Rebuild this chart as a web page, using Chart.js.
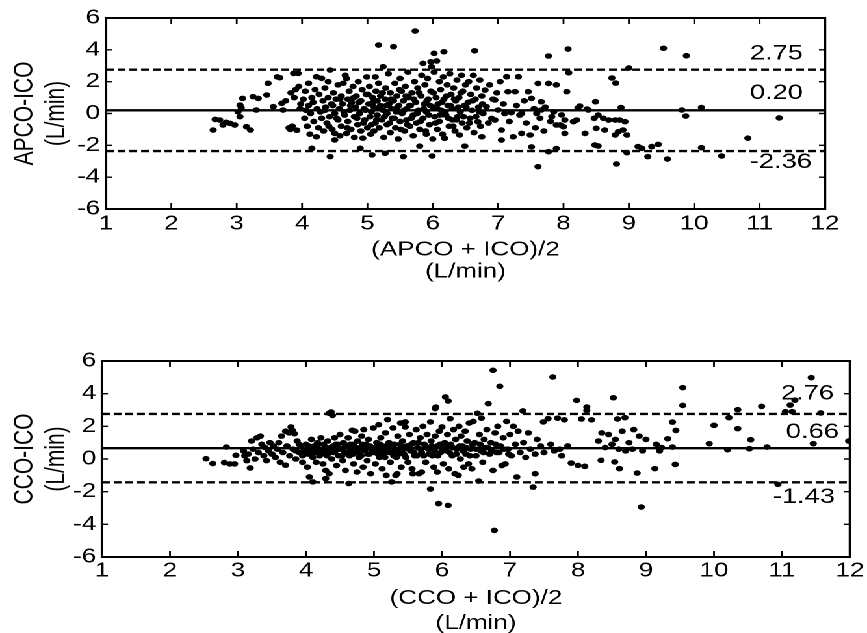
<!DOCTYPE html>
<html>
<head>
<meta charset="utf-8">
<script src="https://cdn.jsdelivr.net/npm/chart.js@4.4.1/dist/chart.umd.min.js"></script>
<style>
  html, body { margin: 0; padding: 0; background: #fff; overflow: hidden; }
  #wrap { position: absolute; left: 0; top: 0; width: 667px; height: 633px; transform-origin: 0 0; }
  #wrap canvas { position: absolute; left: 0; }
</style>
</head>
<body>
<div id="wrap">
  <canvas id="chart-apco" width="667" height="300" style="top:0"></canvas>
  <canvas id="chart-cco" width="667" height="310" style="top:330px"></canvas>
</div>
<script>
// the scanned figure is stretched sideways, so the page is drawn narrow and widened
const S = 1.3;
document.getElementById('wrap').style.transform = `scaleX(${S})`;

const xTicks = [1, 2, 3, 4, 5, 6, 7, 8, 9, 10, 11, 12];
const yTicks = [-6, -4, -2, 0, 2, 4, 6];

// limits of agreement: upper, mean bias, lower
const apcoLines = [2.75, 0.20, -2.36];
const ccoLines = [2.76, 0.66, -1.43];

// (APCO + ICO)/2 vs APCO-ICO
const apcoPoints = [
    [2.64, -1.04], [2.67, -0.37], [2.74, -0.41], [2.79, -0.72], [2.84, -0.55], [2.9, -0.62], [2.97, -0.72],
    [3.02, 0.11], [3.05, 0.53], [3.05, -0.2], [3.09, 0.95], [3.07, 0.35], [3.15, -0.83], [3.21, -1.04],
    [3.25, 1.06], [3.33, 0.95], [3.3, 0.22], [3.46, 1.16], [3.48, 1.9], [3.56, 0.43], [3.62, 2.3], [3.66, 2.25],
    [3.69, 0.64], [3.71, 0.22], [3.75, 0.8], [3.8, -0.9], [3.83, 1.3], [3.82, -1.0], [3.85, -0.8], [3.87, 2.52],
    [3.88, 1.0], [3.9, 1.5], [3.92, -1.05], [3.94, 2.52], [3.95, 1.7], [3.97, 0.3], [3.98, 0.6],
    [4.02, 0.9], [4.04, -0.3], [4.05, 1.4], [4.06, 0.2], [4.08, -0.8], [4.1, 0.5], [4.1, 1.9], [4.12, -1.3],
    [4.13, 0.0], [4.15, -2.19], [4.15, 1.0], [4.17, 0.7], [4.18, -0.5], [4.2, 1.5], [4.22, 2.31], [4.22, -1.46],
    [4.23, 0.3], [4.25, -0.9], [4.26, 1.2], [4.28, 0.1], [4.3, 2.21], [4.3, -0.3], [4.32, 0.8], [4.33, -1.1],
    [4.35, 1.6], [4.36, 0.4], [4.38, -0.6], [4.4, 2.0], [4.4, 1.0], [4.42, -0.2], [4.43, 2.73], [4.43, -2.71],
    [4.45, 0.6], [4.46, -1.0], [4.48, 1.3], [4.5, -1.66], [4.5, -1.25], [4.5, 0.0], [4.52, 0.9],
    [4.55, 1.8], [4.55, -0.4], [4.57, 0.3], [4.58, -1.4], [4.6, 1.1], [4.6, -0.8], [4.62, 0.6], [4.63, 1.9],
    [4.65, -0.1], [4.66, 2.4], [4.68, 2.2], [4.68, -1.25], [4.7, 0.9], [4.7, -0.5], [4.72, 1.4], [4.73, 0.2],
    [4.75, -1.0], [4.76, 0.7], [4.78, 1.7], [4.8, -1.5], [4.8, -0.2], [4.82, 0.4], [4.83, 1.1], [4.85, -0.7],
    [4.86, 2.0], [4.88, 0.0], [4.89, -2.19], [4.9, 0.8], [4.9, -1.1], [4.92, 1.5], [4.93, -1.55], [4.95, 0.3],
    [4.96, -0.4], [4.98, 1.2], [4.99, 2.3], [5.0, -0.9],
    [5.02, 0.6], [5.03, 1.7], [5.04, -0.2], [5.05, -1.3], [5.06, 0.1], [5.07, -2.6], [5.08, 1.0], [5.1, -1.1],
    [5.1, 0.4], [5.12, 2.3], [5.12, -0.6], [5.13, 1.4], [5.15, 0.8], [5.15, -0.1], [5.17, 4.3], [5.17, 1.9],
    [5.18, -0.9], [5.2, 0.5], [5.2, 1.1], [5.22, -0.4], [5.24, 2.94], [5.24, 0.2], [5.25, -1.5], [5.27, -2.5],
    [5.27, 0.9], [5.28, 1.6], [5.3, -0.7], [5.3, 0.0], [5.32, 2.5], [5.33, 0.6], [5.35, -1.2], [5.35, 1.3],
    [5.37, 0.3], [5.38, -0.3], [5.4, 4.2], [5.4, 0.8], [5.42, 1.9], [5.43, -0.9], [5.44, 0.1], [5.45, 1.1],
    [5.47, -1.6], [5.48, 0.5], [5.5, -0.5], [5.5, 2.2],
    [5.52, 1.4], [5.53, 0.0], [5.55, -2.71], [5.55, 0.8], [5.57, -1.1], [5.58, 1.7], [5.6, 0.3], [5.6, -0.4],
    [5.62, 2.6], [5.63, 1.0], [5.65, -0.8], [5.66, 0.5], [5.68, 1.3], [5.7, -1.4], [5.7, -0.1], [5.72, 2.0],
    [5.73, 5.18], [5.74, 0.7], [5.75, -0.6], [5.77, 1.6], [5.78, 0.2], [5.8, -2.05], [5.8, -1.0], [5.82, 1.1],
    [5.83, 2.4], [5.85, 3.15], [5.85, -0.3], [5.87, 0.6], [5.88, 1.8], [5.9, -1.3], [5.9, 0.1], [5.92, 2.2],
    [5.93, 0.9], [5.95, -0.7], [5.97, 3.25], [5.97, 1.4], [5.98, 2.94], [5.99, -2.67], [6.0, 0.4], [6.0, -1.6],
    [6.02, 3.78], [6.02, 2.6], [6.03, -0.2], [6.05, 1.0], [6.06, 3.3], [6.07, -1.0], [6.08, 0.6], [6.1, 2.0],
    [6.1, -0.5], [6.12, 1.5], [6.13, 0.2], [6.15, -1.3], [6.16, 2.3], [6.17, 3.88], [6.17, 0.9], [6.18, -1.56],
    [6.2, -0.1], [6.22, 1.8], [6.23, 0.5], [6.25, -0.8], [6.26, 2.5], [6.28, 1.2], [6.3, -0.4], [6.3, 0.3],
    [6.32, 1.6], [6.34, -1.1], [6.35, 0.8], [6.37, 2.1], [6.38, -0.2], [6.4, 1.0], [6.41, -1.35], [6.42, 0.1],
    [6.44, 2.4], [6.45, -0.6], [6.46, 1.4], [6.48, 0.5], [6.49, -2.05], [6.5, 1.8],
    [6.52, -0.9], [6.54, 0.7], [6.55, 2.0], [6.57, -0.3], [6.58, 1.2], [6.6, 0.2], [6.62, 2.4], [6.63, -1.2],
    [6.64, 3.94], [6.65, 0.9], [6.67, 1.6], [6.69, -0.52], [6.7, 0.4], [6.72, 2.1], [6.73, -0.8], [6.75, -1.46],
    [6.75, 1.1], [6.77, 0.0], [6.8, 1.47], [6.82, 0.43], [6.85, -0.6], [6.87, 1.8], [6.9, -0.31], [6.92, 0.9],
    [6.95, 0.85], [6.95, -0.41], [6.98, 1.3], [7.0, 0.22],
    [7.03, 2.0], [7.05, -1.04], [7.05, -1.67], [7.08, 0.6], [7.1, 0.0], [7.13, 2.31], [7.15, 1.37], [7.17, -0.5],
    [7.2, 0.05], [7.23, -1.46], [7.26, 1.37], [7.28, 0.5], [7.31, 2.31], [7.33, -0.1], [7.36, -1.25], [7.36, 0.0],
    [7.4, 0.8], [7.43, -0.6], [7.46, 1.37], [7.49, -1.35], [7.51, 0.95], [7.51, -2.1], [7.55, 0.3], [7.57, -0.9],
    [7.59, 0.0], [7.61, 1.89], [7.61, -3.34], [7.64, -0.3], [7.66, 0.74], [7.66, 0.22], [7.7, -1.1], [7.72, 0.4],
    [7.77, 3.61], [7.77, 1.89], [7.77, -2.4], [7.8, -0.5], [7.82, -0.2], [7.85, 0.1], [7.89, -0.72], [7.89, -2.2],
    [7.89, 1.8],
    [7.95, -0.72], [7.97, -0.09], [8.0, -0.83], [8.02, -0.41], [8.02, -1.25], [8.05, 1.37], [8.07, 4.05], [8.08, 2.56],
    [8.15, -0.51], [8.2, -0.41], [8.22, 0.35], [8.25, 0.47], [8.33, -1.25], [8.36, 0.28], [8.38, 0.22], [8.47, -0.3],
    [8.48, -1.98], [8.49, 0.74], [8.5, -0.93], [8.53, -0.1], [8.53, -2.04], [8.61, -0.3], [8.63, -1.04], [8.69, -0.41],
    [8.74, 2.23], [8.79, -0.41], [8.79, -1.35], [8.8, 1.91], [8.81, -3.17], [8.84, -1.14], [8.86, -0.41], [8.88, 0.37],
    [8.91, -1.04], [8.94, -0.51], [8.97, -1.35], [8.97, -2.46], [9.0, 2.86], [9.14, -2.08], [9.2, -2.19], [9.29, -2.71],
    [9.35, -2.08], [9.45, -1.94], [9.53, 4.1], [9.59, -2.86], [9.81, 0.22], [9.87, -0.16], [9.88, 3.63], [10.11, 0.37],
    [10.11, -2.15], [10.42, -2.67], [10.82, -1.55], [11.3, -0.28],
    // core of the cloud
    [4.35, 0.2], [4.41, -0.8], [4.47, 0.5], [4.53, -0.3], [4.58, 0.9], [4.64, 0.1], [4.69, -0.9], [4.74, 0.5],
    [4.79, 1.0], [4.84, -0.3], [4.87, 0.7], [4.94, -0.6], [4.97, 0.2], [5.01, 1.2], [5.06, -0.7], [5.09, 0.7],
    [5.14, -0.4], [5.19, 0.3], [5.23, 1.3], [5.26, -0.2], [5.29, 0.5], [5.34, -0.6], [5.36, 0.9], [5.41, -0.3],
    [5.46, 0.4], [5.49, 1.5], [5.51, -1.0], [5.56, 0.2], [5.59, 1.1], [5.61, -0.7], [5.64, 0.5], [5.67, -0.3],
    [5.71, 0.9], [5.76, 0.0], [5.79, 1.3], [5.81, -0.5], [5.86, 0.3], [5.89, -1.1], [5.91, 0.8], [5.94, -0.1],
    [5.96, 0.5], [6.01, 1.3], [6.04, -0.6], [6.07, 0.3], [6.11, -0.1], [6.14, 0.7], [6.19, 0.1], [6.21, 1.1],
    [6.24, -0.3], [6.27, 0.5], [6.31, -0.8], [6.33, 0.9], [6.36, -0.4], [6.39, 0.4], [6.43, 1.3], [6.47, -0.2],
    [6.51, 0.4], [6.56, -0.6], [6.61, 0.8], [6.66, -0.2], [6.71, 0.1], [6.76, 0.6]
];

// (CCO + ICO)/2 vs CCO-ICO
const ccoPoints = [
    [2.53, 0.02], [2.63, -0.28], [2.83, 0.73], [2.8, -0.22], [2.88, -0.3], [2.95, -0.3], [2.97, 0.23], [3.08, 0.5],
    [3.1, 0.2], [3.13, -0.1], [3.15, 0.3], [3.18, -0.55], [3.2, 1.1], [3.22, 0.6], [3.25, 0.0], [3.28, 1.3],
    [3.3, 0.4], [3.33, 1.4], [3.35, 0.9], [3.38, 0.2], [3.4, 0.7], [3.42, -0.1], [3.45, 0.5], [3.47, 1.0],
    [3.5, 0.3], [3.52, 0.8], [3.55, 0.1], [3.58, 0.6], [3.6, 1.0], [3.62, -0.2], [3.64, 1.4], [3.66, 0.4],
    [3.7, -0.38], [3.7, 1.7], [3.72, 0.8], [3.75, 1.6], [3.76, 0.2], [3.78, 1.96], [3.8, 1.75], [3.81, 0.6],
    [3.83, 1.55], [3.85, 0.0], [3.87, 1.1], [3.9, 0.4], [3.92, 0.8], [3.95, -0.2], [3.97, 0.5],
    [4.0, 0.9], [4.02, -0.5], [4.03, 0.3], [4.05, -1.1], [4.06, 0.6], [4.08, 1.2], [4.1, 0.1], [4.1, -1.4],
    [4.12, 0.8], [4.14, 0.4], [4.15, -0.2], [4.17, 1.0], [4.18, 0.6], [4.2, 0.2], [4.22, 1.3], [4.23, 0.5],
    [4.25, -0.3], [4.26, 0.9], [4.28, 0.3], [4.29, -0.7], [4.29, -1.2], [4.3, 0.7], [4.32, 1.1], [4.34, -0.9],
    [4.34, 2.8], [4.35, 0.4], [4.37, 2.88], [4.38, 0.0], [4.39, 2.67], [4.4, 0.8], [4.42, 1.3], [4.43, 0.5],
    [4.45, -0.4], [4.47, 0.9], [4.48, 0.2], [4.5, 1.5], [4.52, 0.6], [4.54, -0.1], [4.55, 1.0], [4.57, 0.4],
    [4.58, -0.7], [4.6, 0.8], [4.62, 1.3], [4.63, -1.5], [4.64, 0.2], [4.66, 0.6], [4.68, 1.76], [4.7, -0.3],
    [4.7, 0.9], [4.72, 1.7], [4.73, 0.4], [4.75, -0.8], [4.76, 1.1], [4.78, 0.1], [4.8, 0.7], [4.82, 1.4],
    [4.84, -0.5], [4.85, 1.8], [4.86, 0.5], [4.88, 0.9], [4.9, -0.1], [4.92, 1.2], [4.93, 0.3], [4.95, -0.9],
    [4.97, 0.7], [4.99, 1.9],
    [5.0, 0.4], [5.02, -0.3], [5.04, 1.0], [5.05, 0.6], [5.07, 2.1], [5.08, 0.1], [5.1, 1.3], [5.12, -0.6],
    [5.13, 0.8], [5.15, 0.3], [5.17, 1.6], [5.18, -1.0], [5.2, 2.41], [5.2, 0.6], [5.22, 1.0], [5.24, -0.2],
    [5.26, -1.4], [5.27, 0.4], [5.28, 1.9], [5.3, 0.9], [5.32, -1.0], [5.33, 0.1], [5.34, -0.9], [5.35, 1.4],
    [5.37, 0.6], [5.39, 2.2], [5.4, -0.5], [5.42, 1.1], [5.44, 0.3], [5.46, 2.27], [5.46, 1.96], [5.48, 0.8],
    [5.5, -0.2], [5.52, 1.5], [5.54, 0.5], [5.56, -0.6], [5.57, -0.9], [5.58, 1.0], [5.6, 0.2], [5.62, 1.8],
    [5.64, 0.7], [5.66, -0.9], [5.68, 1.3], [5.7, -0.8], [5.7, 0.4], [5.72, 2.0], [5.74, 0.9], [5.76, -0.2],
    [5.78, 1.5], [5.8, 0.6], [5.83, -1.84], [5.83, 2.27], [5.84, 1.1], [5.86, 0.2], [5.88, -0.5], [5.9, 3.09],
    [5.9, 1.4], [5.91, 3.18], [5.93, -0.8], [5.93, 0.8], [5.95, -2.73], [5.96, 1.7], [5.98, 0.4], [6.0, 1.96],
    [6.02, -0.3], [6.04, 1.0], [6.05, 3.8], [6.06, 0.5], [6.08, 1.5], [6.09, 3.55], [6.09, -2.84], [6.1, -0.6],
    [6.12, 2.47], [6.13, 0.9], [6.15, 0.2], [6.17, 1.8], [6.19, -0.9], [6.2, 1.2], [6.22, 0.6], [6.24, -1.0],
    [6.25, 2.0], [6.27, 0.0], [6.28, 1.4], [6.3, 0.8], [6.32, -0.5], [6.34, 1.7], [6.35, 0.3], [6.37, 1.1],
    [6.39, -0.3], [6.4, 2.2], [6.42, 0.6], [6.44, -0.6], [6.46, 2.3], [6.48, 1.0], [6.5, 0.2], [6.52, 2.8],
    [6.54, -1.35], [6.55, 1.5], [6.57, 0.5], [6.58, 2.5], [6.6, -0.2], [6.62, 1.2], [6.64, 0.7], [6.66, 1.8],
    [6.68, 3.39], [6.7, 0.3], [6.72, 1.0], [6.75, 5.43], [6.75, -0.7], [6.77, -4.37], [6.78, 1.6], [6.8, 0.4],
    [6.82, 2.0], [6.85, 4.45], [6.86, 0.8], [6.88, -0.4], [6.9, 1.3], [6.93, -0.3], [6.95, 2.3], [6.97, 0.6],
    [7.0, 1.5],
    [7.02, 0.2], [7.05, 2.0], [7.08, 0.9], [7.1, -1.1], [7.12, 1.7], [7.15, 0.4], [7.19, 2.94], [7.2, 1.0],
    [7.23, 0.1], [7.27, 1.6], [7.3, 0.6], [7.34, -1.72], [7.37, -0.9], [7.37, 0.3], [7.4, 1.2], [7.45, 0.8],
    [7.49, 2.27], [7.5, 0.4], [7.56, 2.47], [7.6, 0.9], [7.63, 5.02], [7.65, 0.5], [7.7, 2.5], [7.73, 0.6],
    [7.76, 0.2], [7.8, 2.4], [7.85, 0.8], [7.9, -0.25], [7.98, 3.59], [8.0, -0.39], [8.05, 2.45], [8.1, -0.45],
    [8.13, 3.18], [8.13, 2.98],
    [8.2, 2.4], [8.3, 1.1], [8.34, -0.08], [8.35, 1.6], [8.4, 0.7], [8.45, 1.5], [8.5, 0.9], [8.52, 3.75],
    [8.54, -0.18], [8.55, 1.2], [8.58, 2.45], [8.6, 0.6], [8.61, -0.59], [8.65, 1.7], [8.69, 2.53], [8.7, 0.5],
    [8.75, 1.0], [8.8, 0.6], [8.82, 1.8], [8.87, -0.86], [8.9, 1.4], [8.93, -2.94], [8.95, 0.5], [9.0, 1.2],
    [9.13, -0.59], [9.15, 0.9], [9.2, 0.5], [9.23, 0.7], [9.32, 1.24], [9.39, 2.26], [9.39, 0.73], [9.43, -0.33],
    [9.44, 1.75], [9.54, 4.37], [9.54, 3.28], [9.93, 0.94], [10.0, 2.06], [10.2, 0.57], [10.22, 2.53], [10.35, 3.02],
    [10.35, 1.86], [10.52, 0.63], [10.54, 1.18], [10.7, 3.22], [10.78, 0.73], [10.94, -1.55], [11.05, 2.9], [11.12, 3.3],
    [11.19, 3.6], [11.15, 2.9], [11.43, 4.98], [11.46, 0.94], [11.57, 2.82], [11.98, 1.1],
    // core of the cloud
    [3.85, 0.5], [3.9, 0.9], [3.95, 0.2], [4.0, 0.5], [4.04, 0.8], [4.08, 0.3], [4.13, 0.6], [4.19, 0.9],
    [4.21, 0.4], [4.27, 0.6], [4.31, 0.2], [4.36, 0.7], [4.41, 0.4], [4.44, 0.9], [4.49, 0.6], [4.53, 0.2],
    [4.56, 0.7], [4.61, 0.4], [4.65, 0.9], [4.69, 0.3], [4.74, 0.7], [4.77, 0.4], [4.81, 0.2], [4.83, 0.9],
    [4.87, 0.6], [4.91, 0.3], [4.94, 0.8], [4.98, 0.5], [5.03, 0.7], [5.06, 0.3], [5.09, 0.9], [5.14, 0.5],
    [5.16, 0.1], [5.19, 0.8], [5.23, 0.4], [5.25, 0.9], [5.29, 0.2], [5.31, 0.6], [5.36, 0.3], [5.38, 0.9],
    [5.41, 0.5], [5.45, 0.7], [5.47, 0.1], [5.51, 0.6], [5.55, 0.9], [5.59, 0.4], [5.63, 0.2], [5.65, 1.0],
    [5.69, 0.6], [5.73, 0.2], [5.77, 0.7], [5.81, 0.3], [5.85, 0.8], [5.89, 0.5], [5.94, 0.2], [5.97, 0.9],
    [6.01, 0.6], [6.07, 0.8], [6.11, 0.4], [6.16, 0.7], [6.21, 0.3], [6.26, 0.8], [6.31, 0.5], [6.36, 0.7],
    [6.41, 0.2], [6.45, 0.9], [6.5, 0.6], [6.56, 0.9], [6.61, 0.4], [6.67, 0.7], [6.73, 0.5], [6.79, 0.9],
    [6.84, 0.4], [6.91, 0.6], [6.98, 0.3]
];

const fontFamily = '"Liberation Sans", Arial, Helvetica, sans-serif';
Chart.defaults.font.family = fontFamily;
Chart.defaults.color = '#000';

// frame, inward tick marks and the value labels next to the reference lines
const frame_plugin = {
    id: 'frame',
    afterDatasetsDraw(chart, args, opts) {
        const { ctx, chartArea: a, scales: { x, y } } = chart;
        ctx.save();
        ctx.strokeStyle = '#000';
        ctx.lineWidth = 2;
        ctx.strokeRect(a.left, a.top, a.right - a.left, a.bottom - a.top);

        ctx.beginPath();
        x.ticks.forEach(t => {
            const px = x.getPixelForValue(t.value);
            ctx.moveTo(px, a.top); ctx.lineTo(px, a.top + 6);
            ctx.moveTo(px, a.bottom); ctx.lineTo(px, a.bottom - 6);
        });
        y.ticks.forEach(t => {
            const py = y.getPixelForValue(t.value);
            ctx.moveTo(a.left, py); ctx.lineTo(a.left + 6 / S, py);
            ctx.moveTo(a.right, py); ctx.lineTo(a.right - 6 / S, py);
        });
        ctx.lineWidth = 1.4;
        ctx.stroke();

        ctx.fillStyle = '#000';
        ctx.font = '21px ' + fontFamily;
        ctx.textAlign = 'right';
        ctx.textBaseline = 'middle';
        opts.values.forEach((v, i) => {
            const [dx, dy] = opts.offsets[i];
            ctx.fillText(v.toFixed(2), a.right - dx / S, y.getPixelForValue(v) + dy);
        });
        ctx.restore();
    }
};

function createChart(canvasId, points, lines, o) {
    const ctx = document.getElementById(canvasId);
    const refLines = lines.map((v, i) => ({
        type: 'line',
        data: [{ x: xTicks[0], y: v }, { x: xTicks[xTicks.length - 1], y: v }],
        borderColor: '#000',
        borderWidth: 2.4,
        borderDash: i === 1 ? [] : [6, 3],
        pointRadius: 0
    }));

    return new Chart(ctx, {
        type: 'scatter',
        data: {
            datasets: [{
                data: points.map(p => ({ x: p[0], y: p[1] })),
                backgroundColor: '#000',
                borderColor: '#000',
                pointRadius: 2.8,
                pointBorderWidth: 0
            }, ...refLines]
        },
        options: {
            responsive: false,
            animation: false,
            devicePixelRatio: 2,
            layout: { padding: { left: 0, top: o.top, right: o.padRight, bottom: 0 } },
            plugins: {
                legend: { display: false },
                tooltip: { enabled: false },
                frame: { values: lines, offsets: o.labelOffsets }
            },
            scales: {
                x: {
                    type: 'linear',
                    min: xTicks[0],
                    max: xTicks[xTicks.length - 1],
                    afterBuildTicks: axis => { axis.ticks = xTicks.map(v => ({ value: v })); },
                    afterFit: axis => { axis.height = o.xAxisHeight; },
                    grid: { display: false, drawTicks: false },
                    border: { display: false },
                    ticks: { padding: o.xTickPad, font: { size: 20 } },
                    title: {
                        display: true,
                        text: o.xTitle,
                        font: { size: 20, lineHeight: o.xTitleLineHeight },
                        padding: { top: 0, bottom: o.xTitlePad }
                    }
                },
                y: {
                    type: 'linear',
                    min: yTicks[0],
                    max: yTicks[yTicks.length - 1],
                    afterBuildTicks: axis => { axis.ticks = yTicks.map(v => ({ value: v })); },
                    afterFit: axis => { axis.width = o.yAxisWidth; },
                    grid: { display: false, drawTicks: false },
                    border: { display: false },
                    ticks: { padding: 4.5, font: { size: 20 } },
                    title: {
                        display: true,
                        text: o.yTitle,
                        font: { size: 21, lineHeight: 1.17 },
                        padding: { top: 7, bottom: 0 }
                    }
                }
            }
        },
        plugins: [frame_plugin]
    });
}

createChart('chart-apco', apcoPoints, apcoLines, {
    top: 18,
    padRight: 667 - 825 / S,
    yAxisWidth: 106 / S,
    xAxisHeight: 300 - 209,
    xTickPad: 3,
    xTitle: ['(APCO + ICO)/2', '(L/min)'],
    xTitleLineHeight: 1.1,
    xTitlePad: 17,
    yTitle: ['APCO-ICO', '(L/min)'],
    labelOffsets: [[22, -16], [22, -17], [13, 11]]
});

createChart('chart-cco', ccoPoints, ccoLines, {
    top: 31,
    padRight: 667 - 853 / S,
    yAxisWidth: 102 / S,
    xAxisHeight: 310 - 227,
    xTickPad: 2,
    xTitle: ['(CCO + ICO)/2', '(L/min)'],
    xTitleLineHeight: 1.25,
    xTitlePad: 4,
    yTitle: ['CCO-ICO', '(L/min)'],
    labelOffsets: [[16, -20], [11, -16], [15, 15]]
});
</script>
</body>
</html>
